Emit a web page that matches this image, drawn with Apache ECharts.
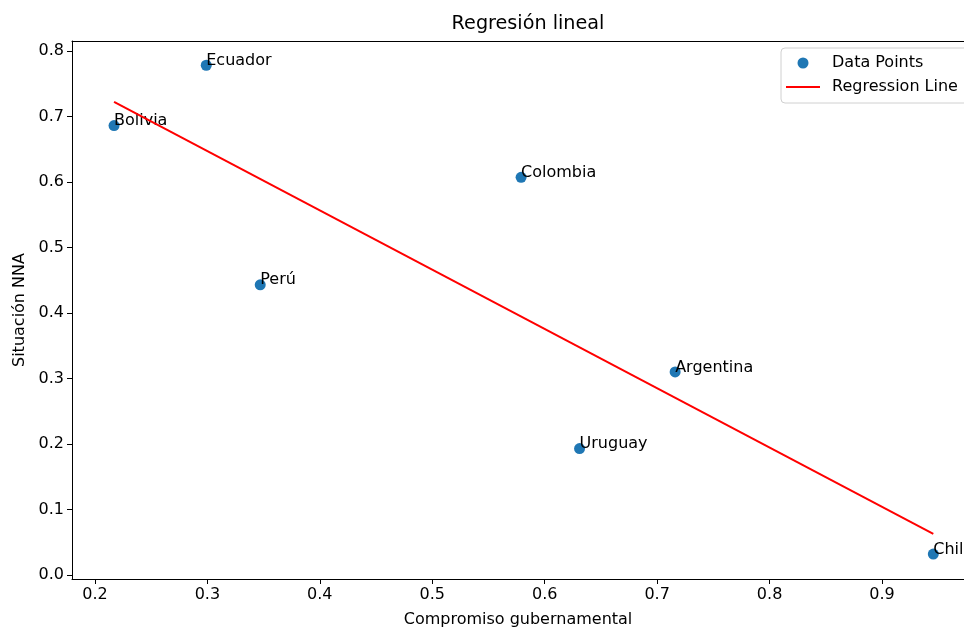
<!DOCTYPE html>
<html><head><meta charset="utf-8">
<script src="https://cdn.jsdelivr.net/npm/echarts@6/dist/echarts.min.js"></script>
<style>html,body{margin:0;padding:0;background:#fff}#c{width:964px;height:627px}</style>
</head><body><div id="c"></div>
<script>
const countries = ['Bolivia', 'Ecuador', 'Perú', 'Colombia', 'Argentina', 'Uruguay', 'Chile'];
const compromiso = [0.217, 0.299, 0.347, 0.579, 0.716, 0.631, 0.9456];
const situacion = [0.686, 0.778, 0.443, 0.607, 0.310, 0.193, 0.032];
const regX = [0.217, 0.9456];
const regY = [0.722, 0.063];
const xTicks = [0.2, 0.3, 0.4, 0.5, 0.6, 0.7, 0.8, 0.9];
const yTicks = [0.0, 0.1, 0.2, 0.3, 0.4, 0.5, 0.6, 0.7, 0.8];

const font = 'DejaVu Sans';
const FS = 16;
const xMin = 0.1796, xMax = 0.9729;
const chart = echarts.init(document.getElementById('c'));
chart.setOption({
  animation: false,
  backgroundColor: '#fff',
  textStyle: { fontFamily: font },
  title: {
    text: 'Regresión lineal', left: 523, top: 10, textAlign: 'center',
    textStyle: { fontFamily: font, fontSize: 19.2, fontWeight: 'normal', color: '#000' }
  },
  legend: {
    left: 781, top: 48, orient: 'vertical',
    padding: [7, 10, 8, 5], itemGap: 8, itemWidth: 34, itemHeight: 11,
    backgroundColor: '#fff', borderColor: '#d0d0d0', borderWidth: 1, borderRadius: 4,
    textStyle: { fontFamily: font, fontSize: FS, color: '#000', padding: [0, 0, 0, 7], width: 150 },
    data: [
      { name: 'Data Points', icon: 'circle' },
      { name: 'Regression Line', icon: 'path://M0,0H34V2H0Z' }
    ]
  },
  grid: { left: 72, top: 41, right: 0, bottom: 48, show: false, outerBoundsMode: 'none', containLabel: false },
  xAxis: [{
    type: 'value', min: xMin, max: xMax,
    name: 'Compromiso gubernamental', nameLocation: 'middle', nameGap: 33,
    nameTextStyle: { fontFamily: font, fontSize: FS, color: '#000' },
    axisLine: { show: true, onZero: false, lineStyle: { color: '#000', width: 1 } },
    axisTick: { show: true, length: 5, customValues: xTicks, lineStyle: { color: '#000' } },
    axisLabel: { customValues: xTicks, formatter: v => v.toFixed(1), fontFamily: font, fontSize: FS, color: '#000', margin: 8 },
    splitLine: { show: false }
  }, {
    type: 'value', min: xMin, max: xMax, position: 'top',
    axisLine: { show: true, onZero: false, lineStyle: { color: '#000', width: 1 } },
    axisTick: { show: false }, axisLabel: { show: false }, splitLine: { show: false }
  }],
  yAxis: {
    type: 'value', min: -0.006, max: 0.815,
    name: 'Situación NNA', nameLocation: 'middle', nameGap: 44,
    nameTextStyle: { fontFamily: font, fontSize: FS, color: '#000' },
    axisLine: { show: true, onZero: false, lineStyle: { color: '#000', width: 1 } },
    axisTick: { show: true, length: 5, customValues: yTicks, lineStyle: { color: '#000' } },
    axisLabel: { customValues: yTicks, formatter: v => v.toFixed(1), fontFamily: font, fontSize: FS, color: '#000', margin: 8 },
    splitLine: { show: false }
  },
  series: [
    {
      name: 'Data Points', type: 'scatter', symbol: 'circle', symbolSize: 11,
      itemStyle: { color: '#1f77b4', opacity: 1 },
      data: countries.map((c, i) => ({ name: c, value: [compromiso[i], situacion[i]] })),
      label: {
        show: true, formatter: p => p.name, position: [5.5, 9], align: 'left', verticalAlign: 'bottom',
        fontFamily: font, fontSize: FS, color: '#000'
      },
      labelLayout: { hideOverlap: false },
      z: 2
    },
    {
      name: 'Regression Line', type: 'line', showSymbol: false, symbol: 'none',
      lineStyle: { color: '#ff0000', width: 2 }, itemStyle: { color: '#ff0000' },
      data: regX.map((x, i) => [x, regY[i]]),
      z: 3
    }
  ]
});
</script></body></html>
